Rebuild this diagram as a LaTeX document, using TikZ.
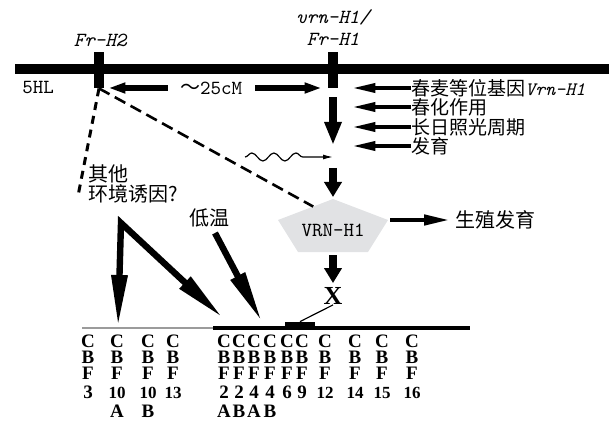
\documentclass[tikz,border=0pt]{standalone}
\usepackage{fontspec}
\newfontfamily\cjk{Noto Sans CJK SC}
\newfontfamily\cbffont{Liberation Serif}
\usetikzlibrary{arrows.meta,positioning,calc,decorations.pathmorphing}
\definecolor{pentgray}{RGB}{225,226,228}
\definecolor{linegray}{RGB}{155,155,155}
\newcommand{\gene}[1]{{\ttfamily\itshape #1}}
\newcommand{\sm}[1]{{\fontsize{8.5}{8}\selectfont #1}}
\newcommand{\cbf}[2]{C\\B\\F\\[1.5pt]#1\\[1.5pt]#2}

\begin{document}
\begin{tikzpicture}[x=0.5pt, y=-0.5pt, >=Latex,
  tick/.style={fill=black, minimum width=5pt, minimum height=18pt, inner sep=0pt},
  zh/.style={font=\cjk\fontsize{10}{10}\selectfont, inner sep=1pt},
  zhlist/.style={anchor=west, font=\cjk\fontsize{9.5}{9.5}\selectfont, inner sep=0pt},
  lbl/.style={font=\ttfamily\fontsize{10}{11}\selectfont, inner sep=1pt},
  col/.style={anchor=north, align=center, inner sep=0pt, font=\cbffont\bfseries\fontsize{9.5}{8}\selectfont},
  cmarr/.style={-{Triangle[length=8.5pt,width=5pt]}, line width=2.6pt},
  sidearr/.style={-{Triangle[length=11.5pt,width=4.5pt]}, line width=1.8pt},
  downarr/.style={-{Triangle[length=11.5pt,width=8pt]}, line width=3.6pt},
  fatarr/.style={-{Triangle[length=7.5pt,width=8.5pt]}, line width=4pt},
  reparr/.style={-{Triangle[length=13pt,width=5pt]}, line width=2.2pt},
  longarr/.style={-{Triangle[length=26pt,width=7.5pt]}, line width=3.2pt},
  nshape/.style={{Triangle[length=26pt,width=7.5pt]}-{Triangle[length=26pt,width=7.5pt]}, line width=3.2pt, line join=miter},
  wave/.style={-{Latex[length=5pt,width=2.5pt]}, line width=0.6pt, decorate,
    decoration={snake, amplitude=2pt, segment length=11pt, post length=12pt}},
  dashline/.style={line width=1.3pt, dash pattern=on 6pt off 3pt},
  dotline/.style={line width=1.5pt, dash pattern=on 4pt off 3pt}]
  \useasboundingbox (0,0) rectangle (609,422);

  % chromosome 5HL
  \draw[line width=5.3pt] (15,69) -- (609,69);
  \node[tick] (frtwo) at (99,70) {};
  \node[tick] (vrn) at (333,70) {};
  \node[lbl, font=\ttfamily\itshape\fontsize{10}{11}\selectfont] (frtwolbl) at (100,40) {Fr-H2};
  \node[lbl, font=\ttfamily\itshape\fontsize{10}{11}\selectfont, align=center] (vrnlbl) at (333,28) {vrn-H1/\\Fr-H1};
  \node[lbl] (chr) at (38,88) {5HL};
  \node[lbl] (cm) at (211,88) {{\cjk ～}25cM};
  \draw[cmarr, shorten <=5pt, shorten >=2pt] (cm.west) -- (cm.west -| frtwo.east);
  \draw[cmarr, shorten <=5.5pt, shorten >=3pt] (cm.east) -- (cm.east -| vrn.west);

  % inputs to vrn-H1
  \node[zhlist] (spring) at (411,88) {春麦等位基因\gene{Vrn-H1}};
  \node[zhlist] (vern) at (411,107) {春化作用};
  \node[zhlist] (longday) at (411,127) {长日照光周期};
  \node[zhlist] (devel) at (411,146) {发育};
  \draw[sidearr, shorten >=7pt] (spring.west) -- (spring.west -| vrn.east);
  \draw[sidearr, shorten >=7pt] (vern.west) -- (vern.west -| vrn.east);
  \draw[sidearr, shorten >=7pt] (longday.west) -- (longday.west -| vrn.east);
  \draw[sidearr, shorten >=7pt] (devel.west) -- (devel.west -| vrn.east);

  \coordinate (hub) at (333,157);
  \coordinate (wv) at (245,157);
  \draw[downarr, shorten <=4.5pt, shorten >=6pt] (vrn.south) -- (hub);
  \draw[wave] (wv) -- (hub);

  % VRN-H1 protein
  \coordinate (ptop) at (333,199);
  \coordinate (pr) at (388,220);
  \coordinate (pbr) at (368,252);
  \coordinate (pbl) at (298,252);
  \coordinate (pl) at (278,220);
  \coordinate (pbot) at (333,252);
  \fill[pentgray] (ptop) -- (pr) -- (pbr) -- (pbl) -- (pl) -- cycle;
  \node[lbl] (vrnp) at (333,230) {VRN-H1};
  \draw[fatarr, shorten <=5.5pt, shorten >=1pt] (hub) -- (ptop);
  \node[zh, anchor=west] (repro) at (453,220) {生殖发育};
  \draw[reparr, shorten <=1pt, shorten >=1.5pt] (pr) -- (repro.west);

  % Fr-H2 links
  \coordinate (pdash) at ($(ptop)!0.36!(pl)$);
  \coordinate (oth) at (78,196);
  \draw[dashline] (frtwo.south) -- (pdash);
  \draw[dotline] (frtwo.south) -- (oth);
  \node[zh, anchor=west, align=left, font=\cjk\fontsize{10}{9}\selectfont] (other) at (86,184) {其他\\环境诱因?};
  \node[zh] (cold) at (209,218) {低温};

  % X and the CBF cluster
  \node[inner sep=0pt, font=\cbffont\bfseries\fontsize{13}{13}\selectfont] (xx) at (333,296) {X};
  \draw[fatarr, shorten <=1.5pt, shorten >=2pt] (pbot) -- (xx.north);
  \node[fill, minimum width=15pt, minimum height=2.5pt, inner sep=0pt] (seg) at (300,324.5) {};
  \draw[line width=0.6pt] (xx.south) -- (seg.north);
  \draw[linegray, line width=1pt] (82,328) -- (213,328);
  \draw[line width=1.6pt] (213,328) -- (470,328);

  \coordinate (ntop) at (121,223);
  \coordinate (nleft) at (118,327);
  \coordinate (nright) at (223,318);
  \draw[nshape] (nleft) -- (ntop) -- (nright);
  \coordinate (cs) at (215,233);
  \coordinate (ce) at (262,322);
  \draw[longarr] (cs) -- (ce);

  \node[col] (c3) at (88,335) {\cbf{3}{}};
  \node[col] (c10a) at (117,335) {\cbf{\sm{10}}{A}};
  \node[col] (c10b) at (148,335) {\cbf{\sm{10}}{B}};
  \node[col] (c13) at (173,335) {\cbf{\sm{13}}{}};
  \node[col] (c2a) at (224,335) {\cbf{2}{A}};
  \node[col] (c2b) at (239,335) {\cbf{2}{B}};
  \node[col] (c4a) at (254,335) {\cbf{4}{A}};
  \node[col] (c4b) at (270,335) {\cbf{4}{B}};
  \node[col] (c6) at (287,335) {\cbf{6}{}};
  \node[col] (c9) at (302,335) {\cbf{9}{}};
  \node[col] (c12) at (325,335) {\cbf{\sm{12}}{}};
  \node[col] (c14) at (355,335) {\cbf{\sm{14}}{}};
  \node[col] (c15) at (382,335) {\cbf{\sm{15}}{}};
  \node[col] (c16) at (412,335) {\cbf{\sm{16}}{}};
\end{tikzpicture}
\end{document}
